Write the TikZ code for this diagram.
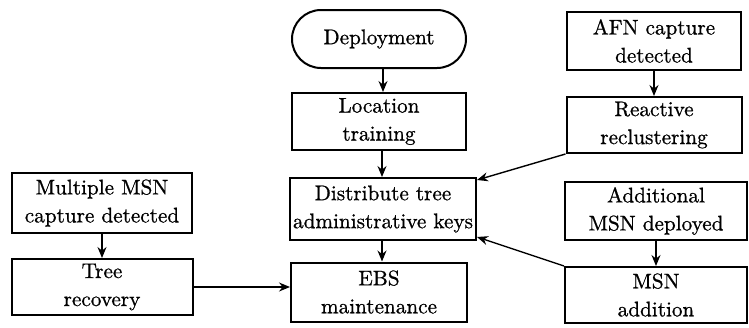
\documentclass[tikz,border=0pt]{standalone}
\usepackage{fontspec}
\newfontfamily\heavyrm{Latin Modern Roman}[FakeBold=0.8]
\usetikzlibrary{arrows.meta,shapes.misc}
\begin{document}
\begin{tikzpicture}[x=0.5pt,y=-0.5pt,
  box/.style={draw,line width=1pt,align=center,inner sep=0pt,
    font=\heavyrm\fontsize{10.6}{14}\selectfont},
  term/.style={box,rounded rectangle},
  arr/.style={line width=0.7pt,-{Stealth[length=5.5pt,width=4.5pt]}}]
\useasboundingbox (0,0) rectangle (749,327);
\node[term,minimum width=87pt,minimum height=29pt] (dep) at (379,39) {Deployment};
\node[box,minimum width=87pt,minimum height=28.5pt] (loc) at (379,121.5) {Location\\training};
\node[box,minimum width=93pt,minimum height=31pt] (dist) at (383,209) {Distribute tree\\administrative keys};
\node[box,minimum width=88pt,minimum height=29.5pt] (ebs) at (379,292) {EBS\\maintenance};
\node[box,minimum width=90pt,minimum height=30pt] (multi) at (102,203) {Multiple MSN\\capture detected};
\node[box,minimum width=90.5pt,minimum height=28pt] (tree) at (102,287) {Tree\\recovery};
\node[box,minimum width=87pt,minimum height=29pt] (afn) at (654,41) {AFN capture\\detected};
\node[box,minimum width=87.5pt,minimum height=28pt] (react) at (654,125) {Reactive\\reclustering};
\node[box,minimum width=91pt,minimum height=29pt] (addl) at (656,211) {Additional\\MSN deployed};
\node[box,minimum width=91pt,minimum height=28pt] (msna) at (656,295) {MSN\\addition};
\draw[arr] (dep.south -| 383,0) -- (loc.north -| 383,0);
\draw[arr] (loc.south -| 382,0) -- (dist.north -| 382,0);
\draw[arr] (dist.south -| 382,0) -- (ebs.north -| 382,0);
\draw[arr] (multi) -- (tree);
\draw[arr] (tree.east) -- (tree.east -| ebs.west);
\draw[arr] (afn) -- (react);
\draw[arr] (addl) -- (msna);
\draw[arr] (react.south west) -- ([yshift=-1.5pt]dist.north east);
\draw[arr] (msna.north west) -- ([yshift=2pt]dist.south east);
\end{tikzpicture}
\end{document}
